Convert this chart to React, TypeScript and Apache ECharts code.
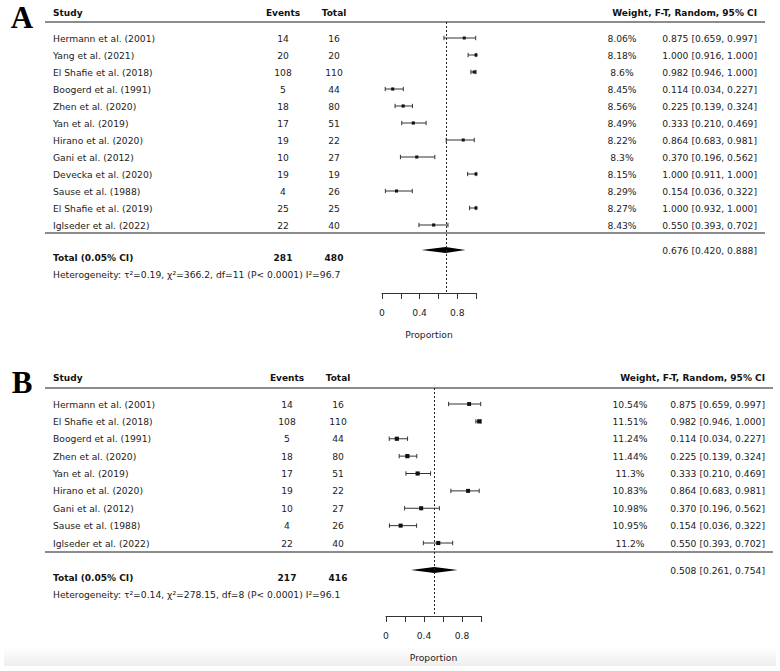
import React, { useEffect, useRef } from 'react';
import * as echarts from 'echarts';

// ---------- Panel A data ----------
const studiesA = [
  'Hermann et al. (2001)', 'Yang et al. (2021)', 'El Shafie et al. (2018)', 'Boogerd et al. (1991)',
  'Zhen et al. (2020)', 'Yan et al. (2019)', 'Hirano et al. (2020)', 'Gani et al. (2012)',
  'Devecka et al. (2020)', 'Sause et al. (1988)', 'El Shafie et al. (2019)', 'Iglseder et al. (2022)',
];
const eventsA = [14, 20, 108, 5, 18, 17, 19, 10, 19, 4, 25, 22];
const totalsA = [16, 20, 110, 44, 80, 51, 22, 27, 19, 26, 25, 40];
const weightsA = [8.06, 8.18, 8.6, 8.45, 8.56, 8.49, 8.22, 8.3, 8.15, 8.29, 8.27, 8.43];
const estA = [0.875, 1.0, 0.982, 0.114, 0.225, 0.333, 0.864, 0.37, 1.0, 0.154, 1.0, 0.55];
const lowA = [0.659, 0.916, 0.946, 0.034, 0.139, 0.21, 0.683, 0.196, 0.911, 0.036, 0.932, 0.393];
const highA = [0.997, 1.0, 1.0, 0.227, 0.324, 0.469, 0.981, 0.562, 1.0, 0.322, 1.0, 0.702];
const summaryA = [0.676, 0.42, 0.888];
const sumEventsA = 281;
const sumTotalA = 480;
const hetA = { tau2: '0.19', chi2: '366.2', df: 11, p: 'P< 0.0001', i2: '96.7' };

// ---------- Panel B data ----------
const studiesB = [
  'Hermann et al. (2001)', 'El Shafie et al. (2018)', 'Boogerd et al. (1991)', 'Zhen et al. (2020)',
  'Yan et al. (2019)', 'Hirano et al. (2020)', 'Gani et al. (2012)', 'Sause et al. (1988)',
  'Iglseder et al. (2022)',
];
const eventsB = [14, 108, 5, 18, 17, 19, 10, 4, 22];
const totalsB = [16, 110, 44, 80, 51, 22, 27, 26, 40];
const weightsB = [10.54, 11.51, 11.24, 11.44, 11.3, 10.83, 10.98, 10.95, 11.2];
const estB = [0.875, 0.982, 0.114, 0.225, 0.333, 0.864, 0.37, 0.154, 0.55];
const lowB = [0.659, 0.946, 0.034, 0.139, 0.21, 0.683, 0.196, 0.036, 0.393];
const highB = [0.997, 1.0, 0.227, 0.324, 0.469, 0.981, 0.562, 0.322, 0.702];
const summaryB = [0.508, 0.261, 0.754];
const sumEventsB = 217;
const sumTotalB = 416;
const hetB = { tau2: '0.14', chi2: '278.15', df: 8, p: 'P< 0.0001', i2: '96.1' };

const xTicks = [0, 0.4, 0.8];

const FONT = 'DejaVu Sans';
const FS = 9.2;
const FSB = 9;
const TXT = '#222';

type Layout = {
  letter: string; letterX: number; letterY: number;
  headerY: number; headerLineY: number; rowTop: number; step: number;
  sepLineY: number; diamondY: number; totalY: number; hetY: number; axisY: number;
  plotLeft: number; plotWidth: number;
  studyX: number; eventsX: number; totalX: number; weightX: number; ciRight: number;
  lineLeft: number; lineRight: number;
};

const layoutA: Layout = {
  letter: 'A', letterX: 22, letterY: 17,
  headerY: 13, headerLineY: 22, rowTop: 38, step: 17,
  sepLineY: 233, diamondY: 250, totalY: 258, hetY: 274, axisY: 293,
  plotLeft: 382, plotWidth: 94,
  studyX: 53, eventsX: 283, totalX: 334, weightX: 622, ciRight: 757,
  lineLeft: 45, lineRight: 765,
};

const layoutB: Layout = {
  letter: 'B', letterX: 22, letterY: 382,
  headerY: 378, headerLineY: 388, rowTop: 404, step: 17.375,
  sepLineY: 552, diamondY: 570, totalY: 578, hetY: 594, axisY: 616,
  plotLeft: 386, plotWidth: 95,
  studyX: 53, eventsX: 287, totalX: 338, weightX: 630, ciRight: 765,
  lineLeft: 45, lineRight: 773,
};

type PanelData = {
  studies: string[]; events: number[]; totals: number[]; weights: number[];
  est: number[]; low: number[]; high: number[]; summary: number[];
  sumEvents: number; sumTotal: number; het: any;
};

const panelA: PanelData = {
  studies: studiesA, events: eventsA, totals: totalsA, weights: weightsA,
  est: estA, low: lowA, high: highA, summary: summaryA,
  sumEvents: sumEventsA, sumTotal: sumTotalA, het: hetA,
};
const panelB: PanelData = {
  studies: studiesB, events: eventsB, totals: totalsB, weights: weightsB,
  est: estB, low: lowB, high: highB, summary: summaryB,
  sumEvents: sumEventsB, sumTotal: sumTotalB, het: hetB,
};

const fmt3 = (v: number) => v.toFixed(3);
const ciText = (e: number, l: number, h: number) => `${fmt3(e)} [${fmt3(l)}, ${fmt3(h)}]`;

function txt(x: number, y: number, text: string, align: string, bold = false) {
  return {
    type: 'text', x, y, silent: true,
    style: {
      text, fill: bold ? '#111' : TXT, fontFamily: FONT, fontSize: bold ? FSB : FS,
      fontWeight: bold ? 'bold' : 'normal',
      align, verticalAlign: 'middle',
    },
  };
}

function buildPanel(d: PanelData, L: Layout, idx: number) {
  const gridTop = L.headerLineY;
  const gridH = L.axisY - L.headerLineY;
  const yMin = 1 - (L.rowTop - gridTop) / L.step;
  const yMax = yMin + gridH / L.step;
  const summaryRow = 1 + (L.diamondY - L.rowTop) / L.step;

  const grid = { left: L.plotLeft, top: gridTop, width: L.plotWidth, height: gridH, containLabel: false };
  const xAxis = {
    type: 'value', gridIndex: idx, min: 0, max: 1, interval: 0.2, position: 'bottom',
    axisLine: { show: true, lineStyle: { color: '#333', width: 1 } },
    axisTick: { show: true, length: 6, lineStyle: { color: '#333', width: 1 } },
    splitLine: { show: false },
    axisLabel: {
      margin: 15, color: TXT, fontFamily: FONT, fontSize: FS,
      formatter: (v: number) => {
        const t = xTicks.find((k) => Math.abs(k - v) < 1e-6);
        return t === undefined ? '' : String(t);
      },
    },
    name: 'Proportion', nameLocation: 'middle', nameGap: 37,
    nameTextStyle: { color: TXT, fontFamily: FONT, fontSize: FS },
  };
  const yAxis = { type: 'value', gridIndex: idx, inverse: true, min: yMin, max: yMax, show: false };

  const rowData = d.est.map((e, i) => [e, i + 1, d.low[i], d.high[i]]);

  const rowSeries = {
    type: 'custom', xAxisIndex: idx, yAxisIndex: idx, clip: false, silent: true,
    data: rowData,
    renderItem: (params: any, api: any) => {
      const i = params.dataIndex;
      const row = api.value(1);
      const pE = api.coord([api.value(0), row]);
      const pL = api.coord([api.value(2), row]);
      const pH = api.coord([api.value(3), row]);
      const y = pE[1];
      const s = d.weights[i] * 0.37;
      const ls = { stroke: '#333', lineWidth: 1 };
      return {
        type: 'group',
        children: [
          { type: 'line', shape: { x1: pL[0], y1: y, x2: pH[0], y2: y }, style: ls },
          { type: 'line', shape: { x1: pL[0], y1: y - 2.2, x2: pL[0], y2: y + 2.2 }, style: ls },
          { type: 'line', shape: { x1: pH[0], y1: y - 2.2, x2: pH[0], y2: y + 2.2 }, style: ls },
          { type: 'rect', shape: { x: pE[0] - s / 2, y: y - s / 2, width: s, height: s }, style: { fill: '#111' } },
          txt(L.studyX, y, d.studies[i], 'left'),
          txt(L.eventsX, y, String(d.events[i]), 'center'),
          txt(L.totalX, y, String(d.totals[i]), 'center'),
          txt(L.weightX, y, `${d.weights[i]}%`, 'center'),
          txt(L.ciRight, y, ciText(d.est[i], d.low[i], d.high[i]), 'right'),
        ],
      };
    },
    markLine: {
      silent: true, symbol: 'none', label: { show: false },
      lineStyle: { color: '#222', type: [2, 2], width: 1 },
      data: [{ xAxis: d.summary[0] }],
    },
  };

  const sumSeries = {
    type: 'custom', xAxisIndex: idx, yAxisIndex: idx, clip: false, silent: true,
    data: [[d.summary[0], summaryRow, d.summary[1], d.summary[2]]],
    renderItem: (params: any, api: any) => {
      const row = api.value(1);
      const pE = api.coord([api.value(0), row]);
      const pL = api.coord([api.value(2), row]);
      const pH = api.coord([api.value(3), row]);
      const y = pE[1];
      return {
        type: 'group',
        children: [
          {
            type: 'polygon',
            shape: { points: [[pL[0], y], [pE[0], y - 3], [pH[0], y], [pE[0], y + 3]] },
            style: { fill: '#000' },
          },
          txt(L.ciRight, y, ciText(d.summary[0], d.summary[1], d.summary[2]), 'right'),
        ],
      };
    },
  };

  const h = d.het;
  const hetText = `Heterogeneity: τ²=${h.tau2}, χ²=${h.chi2}, df=${h.df} (${h.p}) I²=${h.i2}`;

  const graphics: any[] = [
    {
      type: 'text', x: L.letterX, y: L.letterY, silent: true,
      style: {
        text: L.letter, fill: '#000', fontFamily: 'Liberation Serif', fontSize: 31, fontWeight: 'bold',
        align: 'center', verticalAlign: 'middle',
      },
    },
    txt(L.studyX, L.headerY, 'Study', 'left', true),
    txt(L.eventsX, L.headerY, 'Events', 'center', true),
    txt(L.totalX, L.headerY, 'Total', 'center', true),
    txt(L.ciRight, L.headerY, 'Weight, F-T, Random, 95% CI', 'right', true),
    {
      type: 'line', silent: true,
      shape: { x1: L.lineLeft, y1: L.headerLineY, x2: L.lineRight, y2: L.headerLineY },
      style: { stroke: '#666', lineWidth: 1.5 },
    },
    {
      type: 'line', silent: true,
      shape: { x1: L.lineLeft, y1: L.sepLineY, x2: L.lineRight, y2: L.sepLineY },
      style: { stroke: '#666', lineWidth: 1.5 },
    },
    txt(L.studyX, L.totalY, 'Total (0.05% CI)', 'left', true),
    txt(L.eventsX, L.totalY, String(d.sumEvents), 'center', true),
    txt(L.totalX, L.totalY, String(d.sumTotal), 'center', true),
    txt(L.studyX, L.hetY, hetText, 'left'),
  ];

  return { grid, xAxis, yAxis, series: [rowSeries, sumSeries], graphics };
}

export default function App() {
  const ref = useRef<HTMLDivElement>(null);
  useEffect(() => {
    if (!ref.current) return;
    const chart = echarts.init(ref.current, null, { renderer: 'svg' });
    const a = buildPanel(panelA, layoutA, 0);
    const b = buildPanel(panelB, layoutB, 1);
    chart.setOption({
      animation: false,
      backgroundColor: '#fff',
      grid: [a.grid, b.grid],
      xAxis: [a.xAxis, b.xAxis],
      yAxis: [a.yAxis, b.yAxis],
      series: [...a.series, ...b.series],
      graphic: [
        {
          type: 'rect', silent: true, z: -10,
          shape: { x: 4, y: 646, width: 772, height: 20 },
          style: {
            fill: new echarts.graphic.LinearGradient(0, 0, 0, 1, [
              { offset: 0, color: 'rgba(240,240,240,0)' },
              { offset: 1, color: 'rgba(238,238,238,1)' },
            ]),
          },
        },
        ...a.graphics,
        ...b.graphics,
      ],
    });
    return () => chart.dispose();
  }, []);
  return (
    <div
      ref={ref}
      style={{ position: 'fixed', left: 0, top: 0, width: 780, height: 671, background: '#fff' }}
    />
  );
}
